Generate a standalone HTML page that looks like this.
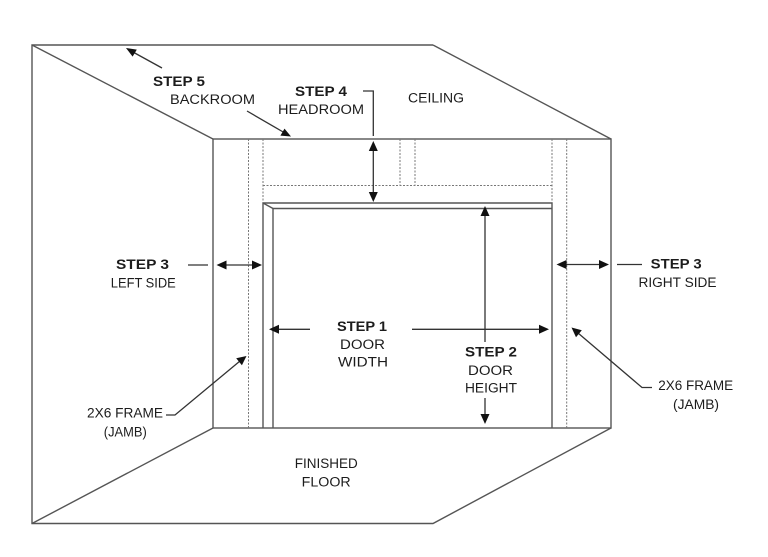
<!DOCTYPE html>
<html>
<head>
<meta charset="utf-8">
<style>
  html,body{margin:0;padding:0;background:#fff;}
  svg{display:block;}
  text{font-family:"Liberation Sans", sans-serif; fill:#1c1c1c; font-size:13.5px;}
  .b{font-weight:bold;}
</style>
</head>
<body>
<svg width="768" height="557" viewBox="0 0 768 557" xmlns="http://www.w3.org/2000/svg">
  <g fill="none" stroke="#555" stroke-width="1.4">
    <!-- outer shape -->
    <polyline points="433,45 32,45 32,523.5 433,523.5 611,428"/>
    <line x1="433" y1="45" x2="611" y2="139"/>
    <!-- perspective diagonals -->
    <line x1="32" y1="45" x2="213" y2="139"/>
    <line x1="32" y1="523.5" x2="213" y2="428"/>
    <!-- inner rectangle -->
    <rect x="213" y="139" width="398" height="289"/>
    <!-- door frame -->
    <polyline points="263,428 263,203 552,203 552,428"/>
    <polyline points="273,428 273,208.5 552,208.5"/>
    <line x1="263" y1="203" x2="273" y2="208.5"/>
  </g>
  <!-- dashed framing -->
  <g fill="none" stroke="#777" stroke-width="1" stroke-dasharray="2,1.5">
    <line x1="248.5" y1="139" x2="248.5" y2="428"/>
    <line x1="263" y1="139" x2="263" y2="203"/>
    <line x1="552" y1="139" x2="552" y2="203"/>
    <line x1="566.7" y1="139" x2="566.7" y2="428"/>
    <line x1="263" y1="185.5" x2="552" y2="185.5"/>
    <line x1="400" y1="139" x2="400" y2="185.5"/>
    <line x1="415" y1="139" x2="415" y2="185.5"/>
  </g>
  <!-- arrows & leaders -->
  <g fill="none" stroke="#333" stroke-width="1.3">
    <line x1="162" y1="68" x2="132" y2="51.5"/>
    <line x1="247" y1="111" x2="284" y2="132.5"/>
    <polyline points="363,91 373.3,91 373.3,136"/>
    <line x1="373.3" y1="150" x2="373.3" y2="193"/>
    <line x1="188" y1="265" x2="208" y2="265"/>
    <line x1="225" y1="265" x2="253" y2="265"/>
    <line x1="617" y1="264.5" x2="642" y2="264.5"/>
    <line x1="565" y1="264.5" x2="600" y2="264.5"/>
    <line x1="310" y1="329.3" x2="278" y2="329.3"/>
    <line x1="412" y1="329.3" x2="540" y2="329.3"/>
    <line x1="485" y1="215" x2="485" y2="342"/>
    <line x1="485" y1="398" x2="485" y2="415"/>
    <polyline points="166,415 175,415 240,361"/>
    <polyline points="652,387.5 642,387.5 578,333"/>
  </g>
  <g fill="#111" stroke="none">
    <!-- step5 head at (126,48) -->
    <polygon points="126,48 136.8,49.6 132.6,56.6"/>
    <!-- backroom head -->
    <polygon points="291,136.5 280.4,135.6 284.5,128.6"/>
    <!-- step4 -->
    <polygon points="373.3,141 368.8,151 377.8,151"/>
    <polygon points="373.3,202 368.8,192 377.8,192"/>
    <!-- step3 left -->
    <polygon points="216.5,265 226.5,260.5 226.5,269.5"/>
    <polygon points="262,265 252,260.5 252,269.5"/>
    <!-- step3 right -->
    <polygon points="556.5,264.5 566.5,260 566.5,269"/>
    <polygon points="609,264.5 599,260 599,269"/>
    <!-- step1 -->
    <polygon points="269,329.3 279,324.8 279,333.8"/>
    <polygon points="549,329.3 539,324.8 539,333.8"/>
    <!-- step2 -->
    <polygon points="485,206 480.5,216 489.5,216"/>
    <polygon points="485,424 480.5,414 489.5,414"/>
    <!-- left jamb head at (246,356) -->
    <polygon points="246.5,356 241.9,365.3 236.2,358.3"/>
    <!-- right jamb head at (572,328) -->
    <polygon points="571.5,327.5 581.8,330.3 576,337.2"/>
  </g>
  <!-- labels -->
  <g text-anchor="middle">
    <text class="b" x="179" y="86" textLength="52" lengthAdjust="spacingAndGlyphs">STEP 5</text>
    <text x="212.5" y="104" textLength="85" lengthAdjust="spacingAndGlyphs">BACKROOM</text>
    <text class="b" x="321" y="96" textLength="52" lengthAdjust="spacingAndGlyphs">STEP 4</text>
    <text x="321" y="114" textLength="86" lengthAdjust="spacingAndGlyphs">HEADROOM</text>
    <text x="436" y="102.5" textLength="56" lengthAdjust="spacingAndGlyphs">CEILING</text>
    <text class="b" x="142.5" y="269" textLength="53" lengthAdjust="spacingAndGlyphs">STEP 3</text>
    <text x="143.3" y="287.5" textLength="65" lengthAdjust="spacingAndGlyphs">LEFT SIDE</text>
    <text class="b" x="676.2" y="268.7" textLength="51" lengthAdjust="spacingAndGlyphs">STEP 3</text>
    <text x="677.5" y="287" textLength="78" lengthAdjust="spacingAndGlyphs">RIGHT SIDE</text>
    <text class="b" x="362" y="331" textLength="50" lengthAdjust="spacingAndGlyphs">STEP 1</text>
    <text x="362.5" y="349" textLength="45" lengthAdjust="spacingAndGlyphs">DOOR</text>
    <text x="363" y="366.5" textLength="50" lengthAdjust="spacingAndGlyphs">WIDTH</text>
    <text class="b" x="491" y="356.5" textLength="52" lengthAdjust="spacingAndGlyphs">STEP 2</text>
    <text x="490.5" y="375" textLength="45" lengthAdjust="spacingAndGlyphs">DOOR</text>
    <text x="491" y="392.5" textLength="52" lengthAdjust="spacingAndGlyphs">HEIGHT</text>
    <text x="125" y="417.5" textLength="76" lengthAdjust="spacingAndGlyphs">2X6 FRAME</text>
    <text x="125.3" y="436.5" textLength="43" lengthAdjust="spacingAndGlyphs">(JAMB)</text>
    <text x="326.3" y="468" textLength="63" lengthAdjust="spacingAndGlyphs">FINISHED</text>
    <text x="326.2" y="486.5" textLength="49" lengthAdjust="spacingAndGlyphs">FLOOR</text>
    <text x="695.7" y="390" textLength="75" lengthAdjust="spacingAndGlyphs">2X6 FRAME</text>
    <text x="696" y="409" textLength="46" lengthAdjust="spacingAndGlyphs">(JAMB)</text>
  </g>
</svg>
</body>
</html>
